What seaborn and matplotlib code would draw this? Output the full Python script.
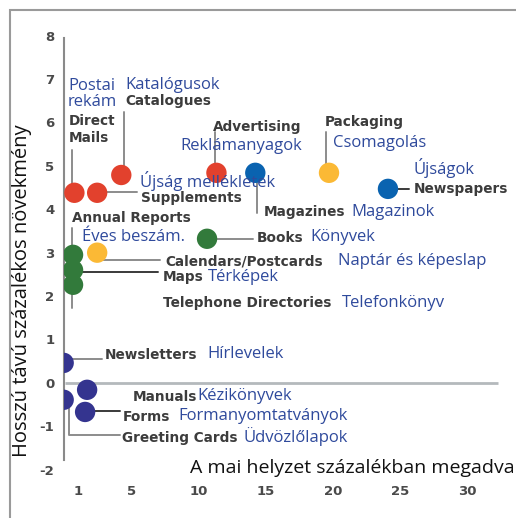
import pandas as pd
import matplotlib.pyplot as plt
import matplotlib.patches as mpatches
import seaborn as sns

# ── Data ──────────────────────────────────────────
names_en = ['Direct Mails', 'Supplements', 'Catalogues', 'Advertising',
            'Magazines', 'Newspapers', 'Packaging', 'Calendars/Postcards',
            'Books', 'Annual Reports', 'Maps', 'Telephone Directories',
            'Newsletters', 'Manuals', 'Greeting Cards', 'Forms']
names_hu = ['Postai\nrekám', 'Újság mellékletek', 'Katalógusok', 'Reklámanyagok',
            'Magazinok', 'Újságok', 'Csomagolás', 'Naptár és képeslap',
            'Könyvek', 'Éves beszám.', 'Térképek', 'Telefonkönyv',
            'Hírlevelek', 'Kézikönyvek', 'Üdvözlőlapok', 'Formanyomtatványok']
share_now = [0.7, 2.4, 4.2, 11.3, 14.2, 24.1, 19.7, 2.4,
             10.6, 0.6, 0.6, 0.6, -0.1, 1.65, -0.1, 1.5]
growth = [4.38, 4.38, 4.79, 4.84, 4.84, 4.47, 4.84, 3.0,
          3.32, 2.95, 2.6, 2.26, 0.46, -0.16, -0.39, -0.67]
group = ['red', 'red', 'red', 'red', 'blue', 'blue', 'yellow', 'yellow',
         'green', 'green', 'green', 'green', 'indigo', 'indigo', 'indigo', 'indigo']
x_ticks = [1, 5, 10, 15, 20, 25, 30]
y_ticks = [-2, -1, 0, 1, 2, 3, 4, 5, 6, 7, 8]

palette = {'red': '#e2412d', 'blue': '#0a63b0', 'yellow': '#fbb935',
           'green': '#327a3b', 'indigo': '#34348f'}

df = pd.DataFrame({'en': names_en, 'hu': names_hu, 'share': share_now,
                   'growth': growth, 'group': group})

# Settings
sns.set_theme(style='white')
plt.rcParams['font.family'] = ['Open Sans', 'DejaVu Sans']

fig = plt.figure(figsize=(5.16, 5.18), dpi=100)
ax = fig.add_axes([64 / 516, 44 / 518, 436 / 516, 447 / 518])

sns.scatterplot(data=df, x='share', y='growth', hue='group', palette=palette,
                s=215, edgecolor='none', legend=False, ax=ax, zorder=3)

ax.set_xlim(-0.075, 32.46)
ax.set_ylim(-2.1, 8.2)
for s in ['top', 'right', 'bottom']:
    ax.spines[s].set_visible(False)
ax.spines['left'].set_color('#8a8a8a')
ax.spines['left'].set_linewidth(1.5)
ax.spines['left'].set_bounds(-1.77, 7.95)

ax.hlines(0, 0, 32.3, color='#b4b9bc', lw=2, zorder=1)

tick_font = dict(family='DejaVu Sans', weight='bold', size=9.5, color='#4a4a4a')
ax.set_xticks(x_ticks)
ax.set_xticklabels([str(t) for t in x_ticks], **tick_font)
ax.set_yticks(y_ticks)
ax.set_yticklabels([str(t) for t in y_ticks], **tick_font)
ax.tick_params(axis='x', length=0, pad=8)
ax.tick_params(axis='y', length=0, pad=7)
ax.set_xlabel('')
ax.set_ylabel('')

# ── Labels ────────────────────────────────────────
en_font = dict(family='DejaVu Sans', weight='bold', size=9.8, color='#3c3c3c')
hu_font = dict(family='Open Sans', size=12, color='#2f4a9c')

en_pos = {'Direct Mails': (0.3, 5.83), 'Supplements': (5.67, 4.26),
          'Catalogues': (4.48, 6.5), 'Advertising': (11.04, 5.9),
          'Magazines': (14.8, 3.94), 'Newspapers': (26.0, 4.47),
          'Packaging': (19.4, 6.01), 'Calendars/Postcards': (7.46, 2.79),
          'Books': (14.3, 3.34), 'Annual Reports': (0.52, 3.8),
          'Maps': (7.31, 2.44), 'Telephone Directories': (7.31, 1.84),
          'Newsletters': (2.99, 0.65), 'Manuals': (5.07, -0.32),
          'Greeting Cards': (4.25, -1.27), 'Forms': (4.33, -0.78)}
hu_pos = {'Direct Mails': (0.22, 6.66), 'Supplements': (5.6, 4.65),
          'Catalogues': (4.48, 6.87), 'Advertising': (8.58, 5.46),
          'Magazines': (21.4, 3.94), 'Newspapers': (26.0, 4.95),
          'Packaging': (20.0, 5.53), 'Calendars/Postcards': (20.4, 2.81),
          'Books': (18.3, 3.36), 'Annual Reports': (1.27, 3.36),
          'Maps': (10.67, 2.44), 'Telephone Directories': (20.67, 1.84),
          'Newsletters': (10.6, 0.67), 'Manuals': (9.85, -0.3),
          'Greeting Cards': (13.3, -1.24), 'Forms': (8.43, -0.76)}

for _, r in df.iterrows():
    ex, ey = en_pos[r['en']]
    txt = 'Direct\nMails' if r['en'] == 'Direct Mails' else r['en']
    ax.text(ex, ey, txt, ha='left', va='center', linespacing=1.25, zorder=4, **en_font)
    hx, hy = hu_pos[r['en']]
    ax.text(hx, hy, r['hu'], ha='left', va='center', linespacing=0.95, zorder=4, **hu_font)

# leader lines
light, dark = '#8c8c8c', '#3a3a3a'
leaders = [
    ([0.52, 0.52], [4.38, 5.37], light),
    ([4.4, 4.4], [4.9, 6.24], light),
    ([11.2, 11.2], [5.0, 5.78], light),
    ([19.5, 19.5], [5.0, 5.78], light),
    ([14.3, 14.3], [4.84, 3.92], light),
    ([24.1, 25.7], [4.47, 4.47], dark),
    ([2.4, 5.4], [4.4, 4.4], light),
    ([10.6, 14.0], [3.32, 3.32], light),
    ([0.52, 0.52], [3.57, 2.95], light),
    ([2.4, 7.1], [2.83, 2.83], light),
    ([0.6, 6.94], [2.56, 2.56], dark),
    ([0.52, 0.52], [2.26, 1.73], light),
    ([-0.1, 2.76], [0.55, 0.55], light),
    ([1.5, 4.1], [-0.65, -0.65], dark),
    ([0.3, 0.3, 4.1], [-0.39, -1.2, -1.2], light),
]
for xs, ys, c in leaders:
    ax.plot(xs, ys, color=c, lw=1.4, zorder=2)

# axis titles
fig.text(22 / 516, 1 - 291 / 518, 'Hosszú távú százalékos növekmény',
         rotation=90, ha='center', va='center', fontsize=14.5, color='#111111')
fig.text(190 / 516, 1 - 468 / 518, 'A mai helyzet százalékban megadva',
         ha='left', va='center', fontsize=14, color='#111111')

# outer frame
fig.patches.append(mpatches.Rectangle((10 / 516, -0.5), 2.0, 1.5 - 10 / 518,
                                      transform=fig.transFigure, fill=False,
                                      edgecolor='#9a9a9a', lw=1.5))

plt.savefig('out.png', dpi=100)
